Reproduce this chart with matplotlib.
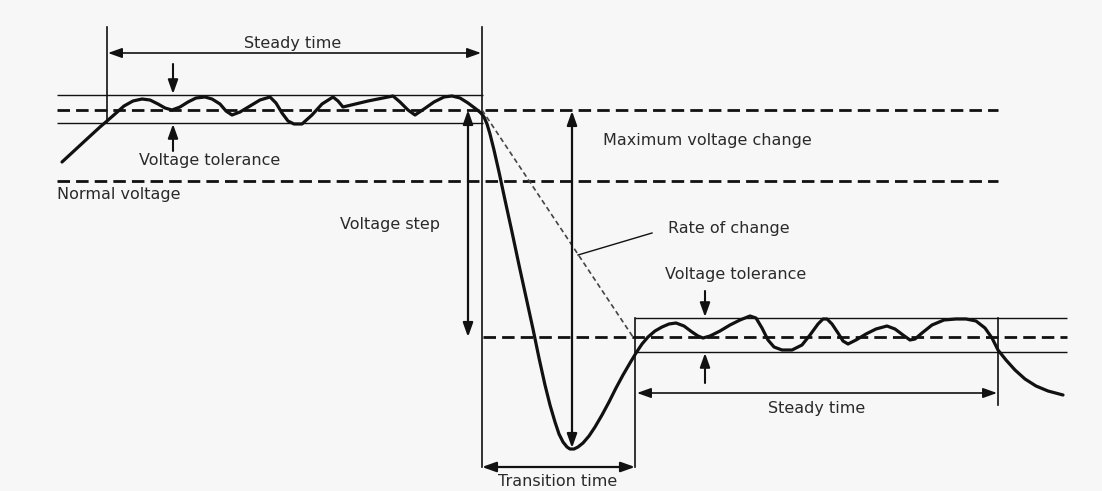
import matplotlib
matplotlib.use("Agg")
import matplotlib.pyplot as plt

# ---- data (pixel-like units) ----
upper_x = [62, 75, 88, 100, 107, 115, 124, 133, 142, 150, 158, 165, 172, 180, 188, 196, 205,
           212, 220, 226, 232, 240, 250, 260, 270, 276, 282, 288, 294, 302, 312, 322, 333,
           338, 343, 368, 393, 400, 408, 415, 424, 434, 444, 452, 460, 468, 476, 481]
upper_y = [162, 150, 138, 127, 121, 114, 106, 101, 99, 100, 104, 108, 110, 107, 102, 98, 97,
           99, 104, 111, 115, 112, 106, 100, 97, 103, 113, 121, 124, 124, 115, 104, 97,
           101, 107, 101, 96, 102, 110, 115, 109, 102, 97, 96, 98, 103, 109, 113]

drop_x = [484, 487, 490, 494, 499, 505, 512, 519, 526, 533, 539, 545, 550, 555, 559, 563,
          567, 570, 574, 578, 583, 589, 595, 602, 609, 616, 623, 630, 636, 642, 648, 655,
          662, 669, 676, 684, 692, 698, 703, 710, 720, 730, 740, 750, 756, 762, 768, 774,
          782, 792, 802, 810, 818, 823, 827, 832, 838, 843, 848, 856, 866, 876, 887, 895,
          903, 910, 915, 922, 932, 944, 956, 966, 976, 985, 992, 998, 1006, 1015, 1025,
          1036, 1048, 1063]
drop_y = [117, 124, 134, 150, 172, 200, 232, 265, 297, 329, 358, 385, 405, 422, 434, 442,
          447, 449, 449, 447, 443, 436, 427, 415, 402, 388, 375, 363, 353, 344, 337, 331,
          327, 324, 323, 326, 332, 336, 338, 336, 331, 325, 320, 316, 318, 328, 340, 347,
          350, 350, 345, 335, 324, 319, 319, 324, 333, 341, 344, 340, 334, 329, 326, 329,
          335, 340, 339, 333, 325, 320, 319, 319, 321, 328, 338, 350, 360, 370, 379, 386,
          391, 395]

labels = ["Steady time", "Voltage tolerance", "Normal voltage", "Maximum voltage change",
          "Voltage step", "Rate of change", "Voltage tolerance", "Steady time", "Transition time"]

INK = "#111111"
TXT = "#2a2a2a"
BG = "#f7f7f7"

fig = plt.figure(figsize=(11.02, 4.91), dpi=100, facecolor=BG)
ax = fig.add_axes([0, 0, 1, 1])
ax.set_facecolor(BG)
ax.set_xlim(0, 1102)
ax.set_ylim(491, 0)
ax.axis("off")

thin = dict(color=INK, lw=1.0, solid_capstyle="butt")

# tolerance bands
ax.plot([57, 483], [95, 95], **thin)
ax.plot([57, 483], [123, 123], **thin)
ax.plot([635, 1067], [318, 318], **thin)
ax.plot([635, 1067], [352, 352], **thin)

# dashed reference lines
dash = dict(color=INK, lw=2.0, dashes=(4.5, 2.2))
ax.plot([57, 998], [109.5, 109.5], **dash)
ax.plot([57, 998], [181, 181], **dash)
ax.plot([483, 1067], [337, 337], **dash)

# vertical markers
ax.plot([107, 107], [27, 122], color=INK, lw=1.2)
ax.plot([482, 482], [27, 467], color=INK, lw=1.2)
ax.plot([635, 635], [318, 467], color=INK, lw=1.2)
ax.plot([998, 998], [318, 405], color=INK, lw=1.2)

# rate of change dashed line + leader
ax.plot([482, 633], [110, 337], color="#444444", lw=1.2, dashes=(3, 2))
ax.plot([578, 652], [255, 233], color=INK, lw=1.0)

# waveform
ax.plot(upper_x, upper_y, color=INK, lw=2.3, solid_joinstyle="round", solid_capstyle="round")
ax.plot([upper_x[-1]] + drop_x, [upper_y[-1]] + drop_y, color=INK, lw=2.3,
        solid_joinstyle="round", solid_capstyle="round")


def arrow(x0, y0, x1, y1, style="<|-|>", lw=1.2):
    ax.annotate("", xy=(x1, y1), xytext=(x0, y0),
                arrowprops=dict(arrowstyle=style + ",head_length=0.7,head_width=0.25",
                                color=INK, lw=lw, shrinkA=0, shrinkB=0, mutation_scale=12))


arrow(108, 53, 481, 53)
arrow(173, 64, 173, 94, "-|>", 1.5)
arrow(173, 151, 173, 124, "-|>", 1.5)
arrow(468, 110, 468, 337, lw=1.6)
arrow(572, 111, 572, 448, lw=1.6)
arrow(482, 467, 635, 467, lw=1.6)
arrow(637, 393, 997, 393)
arrow(705, 291, 705, 317, "-|>", 1.5)
arrow(705, 383, 705, 353, "-|>", 1.5)

fs = 11.5
tk = dict(color=TXT, fontsize=fs, family="DejaVu Sans", va="center")
ax.text(293, 43, labels[0], ha="center", **tk)
ax.text(210, 161, labels[1], ha="center", **tk)
ax.text(57, 195, labels[2], ha="left", **tk)
ax.text(707, 141, labels[3], ha="center", **tk)
ax.text(390, 225, labels[4], ha="center", **tk)
ax.text(729, 228, labels[5], ha="center", **tk)
ax.text(736, 275, labels[6], ha="center", **tk)
ax.text(817, 409, labels[7], ha="center", **tk)
ax.text(558, 481, labels[8], ha="center", **tk)

fig.savefig("out.png", dpi=100, facecolor=BG)
